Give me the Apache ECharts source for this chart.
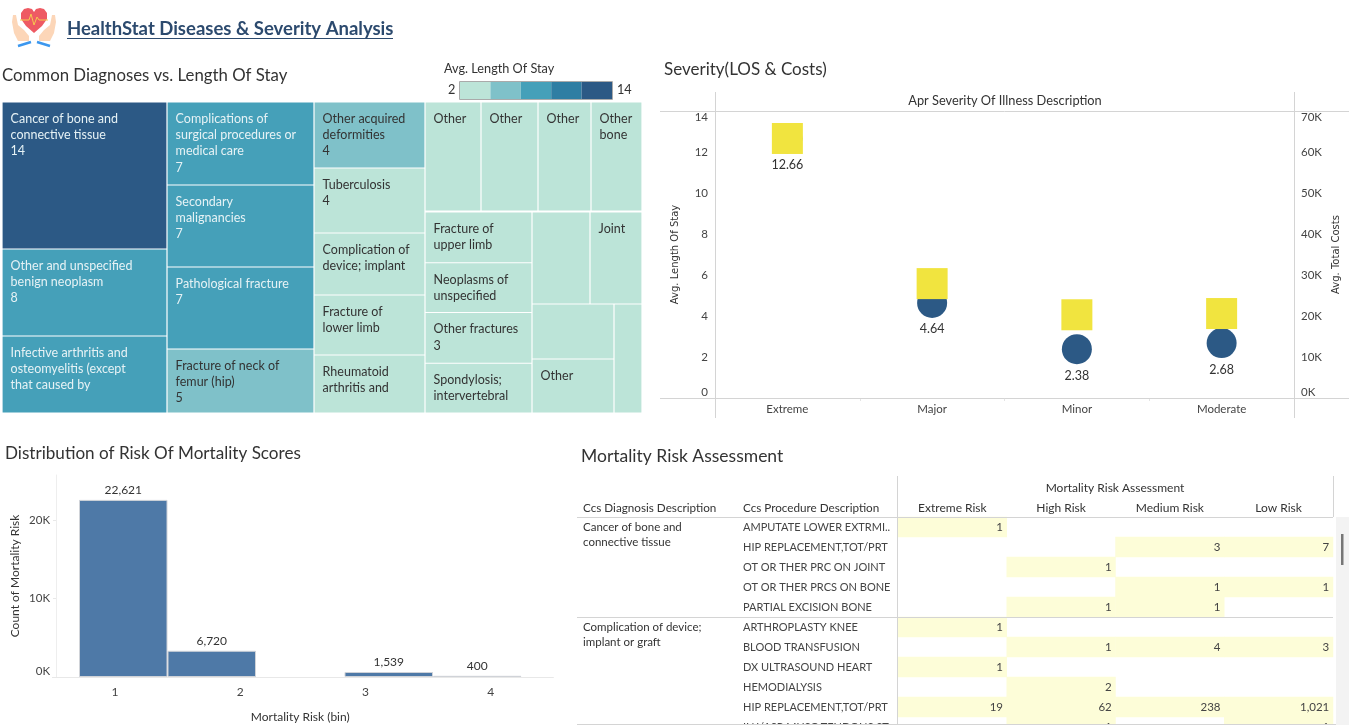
<!DOCTYPE html>
<html>
<head>
<meta charset="utf-8">
<style>html,body{margin:0;padding:0;background:#fff}#c{width:1349px;height:725px}</style>
<script src="https://cdn.jsdelivr.net/npm/echarts@6/dist/echarts.min.js"></script>
</head>
<body>
<div id="c"></div>
<script>
const FONT = 'Lato';

// ---- treemap: [label, size, avg length of stay]
const losSteps = ['#bce4d8', '#7fc1c9', '#45a0b9', '#2f7ea3', '#2c5985'];
const diagColumn1Top = [
  ['Cancer of bone and\nconnective tissue\n14', 147, 14],
  ['Other and unspecified\nbenign neoplasm\n8', 87, 8]
];
const diagColumn1Last = ['Infective arthritis and\nosteomyelitis (except\nthat caused by', 77, 8];
const diagColumn2Top = [
  ['Complications of\nsurgical procedures or\nmedical care\n7', 83, 7],
  ['Secondary\nmalignancies\n7', 82, 7],
  ['Pathological fracture\n7', 82, 7]
];
const diagColumn2Last = ['Fracture of neck of\nfemur (hip)\n5', 64, 5];
const diagColumn3 = [
  ['Other acquired\ndeformities\n4', 66, 4.5],
  ['Tuberculosis\n4', 65, 4],
  ['Complication of\ndevice; implant', 62, 3.8],
  ['Fracture of\nlower limb', 60, 3.6],
  ['Rheumatoid\narthritis and', 58, 3.5]
];
const diagTopRow = [
  ['Other', 56, 3.4], ['Other', 57, 3.4], ['Other', 53, 3.4], ['Other\nbone', 51, 3.4]
];
const diagLowerLeft = [
  ['Fracture of\nupper limb', 51, 3.3], ['Neoplasms of\nunspecified', 50, 3.3],
  ['Other fractures\n3', 51, 3], ['Spondylosis;\nintervertebral', 50, 3]
];
const diagLowerRightTop = [['', 5336, 3], ['Joint', 4784, 3]];
const diagLowerRightMid = [['', 4510, 3], ['Other', 4428, 3]];
const diagLowerRightNarrow = ['', 3052, 3];

// ---- severity
const severity = ['Extreme', 'Major', 'Minor', 'Moderate'];
const avgLos = [12.66, 4.64, 2.38, 2.68];
const avgCosts = [63300, 27900, 20300, 20600];

// ---- histogram
const binSlots = ['1', '2', '', '3', '4'];
const binTicks = ['1', '2', '3', '4'];
const binBarHeights = [22621, 3350, null, 640, 150];
const binBarLabels = ['22,621', '6,720', '', '1,539', '400'];

// ---- table
const riskColumns = ['Extreme Risk', 'High Risk', 'Medium Risk', 'Low Risk'];
const procedures = ['AMPUTATE LOWER EXTRMI..', 'HIP REPLACEMENT,TOT/PRT', 'OT OR THER PRC ON JOINT',
  'OT OR THER PRCS ON BONE', 'PARTIAL EXCISION BONE', 'ARTHROPLASTY KNEE', 'BLOOD TRANSFUSION',
  'DX ULTRASOUND HEART', 'HEMODIALYSIS', 'HIP REPLACEMENT,TOT/PRT', 'INJ/ASP MUSC TENDONS ST'];
const diagnosisByRow = ['Cancer of bone and\nconnective tissue', '', '', '', '',
  'Complication of device;\nimplant or graft', '', '', '', '', ''];
const riskCounts = [
  [1, null, null, null], [null, null, 3, 7], [null, 1, null, null], [null, null, 1, 1],
  [null, 1, 1, null], [1, null, null, null], [null, 1, 4, 3], [1, null, null, null],
  [null, 2, null, null], [19, 62, 238, 1021], [null, 1, null, 1]
];

// ---- helpers
const losColor = v => losSteps[Math.min(4, Math.floor((v - 2) / 2.4))];
const leaf = cell => {
  const dark = cell[2] >= 6.8;
  return {
    name: cell[0], value: cell[1],
    itemStyle: { color: losColor(cell[2]), borderColor: '#fff', borderWidth: 0.6 },
    label: { color: dark ? '#e6f2f5' : '#333' }
  };
};
const group = children => ({ name: '', children, itemStyle: { borderWidth: 0, gapWidth: 0 } });
const treemap = (data, left, top, width, height, squareRatio) => ({
  type: 'treemap', left, top, width, height, data, squareRatio, sort: false,
  roam: false, nodeClick: false, silent: true, animation: false,
  breadcrumb: { show: false }, visibleMin: 0, childrenVisibleMin: 0,
  itemStyle: { borderWidth: 0, gapWidth: 0, borderColor: '#fff' },
  upperLabel: { show: false },
  label: { show: true, position: [3, 3], formatter: '{b}', fontFamily: FONT, fontSize: 12.5,
    lineHeight: 16.3, overflow: 'none', align: 'left', verticalAlign: 'top' }
});

const text = (t, x, y, font, fill, extra) => ({
  type: 'text', z: 60, silent: true,
  style: Object.assign({ text: t, x, y, font, fill, verticalAlign: 'middle', align: 'left' }, extra || {})
});
const line = (x1, y1, x2, y2, color, lw) => ({
  type: 'line', z: 60, silent: true, shape: { x1, y1, x2, y2 }, style: { stroke: color || '#d4d4d4', lineWidth: lw || 1 }
});
const rect = (x, y, width, height, fill, stroke) => ({
  type: 'rect', z: 55, silent: true, shape: { x, y, width, height }, style: { fill, stroke: stroke || null }
});
const poly = (points, fill, smooth) => ({
  type: 'polygon', z: 60, silent: true, shape: { points, smooth: smooth || 0 }, style: { fill }
});

const chrome = [
  // logo
  poly([[13, 15], [16, 15], [18, 25], [24, 30], [29, 36], [29, 41], [18, 41], [14, 33], [12, 22]], '#fcd6b8'),
  poly([[55, 15], [52, 15], [50, 25], [44, 30], [39, 36], [39, 41], [50, 41], [54, 33], [56, 22]], '#fcd6b8'),
  poly([[34, 33], [26, 26], [21, 19], [21, 13], [24, 9], [28, 8], [32, 9], [34, 12], [36, 9], [40, 8], [44, 9], [47, 13], [47, 19], [42, 26]], '#ee5a63'),
  { type: 'polyline', z: 61, silent: true, shape: { points: [[20, 20], [29, 20], [31, 14], [34, 25], [37, 17], [39, 20], [48, 20]] },
    style: { stroke: '#f6c94e', lineWidth: 1, fill: null } },
  line(18, 46, 31, 42, '#3c97ee', 2.4),
  line(37, 42, 50, 46, '#3c97ee', 2.4),
  text('HealthStat Diseases & Severity Analysis', 67, 29, 'bold 18.5px ' + FONT, '#2c4a6e'),
  line(67, 38.5, 393, 38.5, '#2c4a6e'),
  // section titles
  text('Common Diagnoses vs. Length Of Stay', 2, 76, '16.8px ' + FONT, '#333'),
  text('Severity(LOS & Costs)', 664, 70, '17px ' + FONT, '#333'),
  text('Distribution of Risk Of Mortality Scores', 5, 453, '17.1px ' + FONT, '#333'),
  text('Mortality Risk Assessment', 581, 456, '17.5px ' + FONT, '#333'),
  // treemap legend
  text('Avg. Length Of Stay', 444, 69, '12.7px ' + FONT, '#333'),
  text('2', 448, 90, '12.7px ' + FONT, '#333'),
  text('14', 617, 90, '12.7px ' + FONT, '#333'),
  ...losSteps.map((c, i) => rect(460 + i * 30.4, 82, 30.4, 17, c)),
  rect(459.5, 81.5, 153, 18, 'none', '#aaa'),
  // severity frame
  text('Apr Severity Of Illness Description', 1005, 101, '12.8px ' + FONT, '#333', { align: 'center' }),
  line(660, 111.5, 1349, 111.5), line(660, 398.5, 1349, 398.5),
  line(715.5, 92, 715.5, 418), line(1294.5, 92, 1294.5, 418),
  // table frame
  rect(1336, 517, 13, 208, '#f3f3f3'),
  rect(1341, 534, 2.5, 31, '#777'),
  text('Mortality Risk Assessment', 1115, 488, '12px ' + FONT, '#333', { align: 'center' }),
  text('Ccs Diagnosis Description', 583, 508, '11.7px ' + FONT, '#333'),
  text('Ccs Procedure Description', 743, 508, '11.7px ' + FONT, '#333'),
  line(897.5, 476, 897.5, 724), line(1333.5, 476, 1333.5, 517),
  line(577, 517.5, 1333, 517.5), line(577, 617.5, 1333, 617.5),
  rect(577, 724, 759, 1, '#d4d4d4')
];

const heatData = [];
riskCounts.forEach((row, y) => row.forEach((v, x) => { if (v !== null) heatData.push([x, y, v]); }));

const axisText = { fontFamily: FONT, fontSize: 11.5, color: '#444' };

const option = {
  animation: false,
  backgroundColor: '#fff',
  textStyle: { fontFamily: FONT },
  graphic: { elements: chrome },
  grid: [
    { left: 715, top: 111, width: 579, height: 287, outerBoundsMode: 'none' },
    { left: 79, top: 475, width: 442.5, height: 202, outerBoundsMode: 'none' },
    { left: 52.4, top: 475, width: 501, height: 202, outerBoundsMode: 'none' },
    { left: 898, top: 517, width: 435, height: 220, outerBoundsMode: 'none' }
  ],
  xAxis: [
    { gridIndex: 0, type: 'category', data: severity, axisLine: { show: false },
      axisTick: { show: true, length: 3, lineStyle: { color: '#e4e4e4' } },
      axisLabel: Object.assign({ margin: 5 }, axisText) },
    { gridIndex: 1, type: 'category', data: binSlots, axisLine: { show: false }, axisTick: { show: false },
      axisLabel: { show: false },
      name: 'Mortality Risk (bin)', nameLocation: 'middle', nameGap: 34,
      nameTextStyle: { fontFamily: FONT, fontSize: 12, color: '#333' } },
    { gridIndex: 2, type: 'category', data: binTicks, axisLine: { lineStyle: { color: '#e8e8e8' } },
      axisTick: { alignWithLabel: true, length: 3, lineStyle: { color: '#e8e8e8' } },
      axisLabel: { margin: 9, fontFamily: FONT, fontSize: 12, color: '#444' } },
    { gridIndex: 3, type: 'category', position: 'top', data: riskColumns, axisLine: { show: false }, axisTick: { show: false },
      splitLine: { show: false }, axisLabel: { margin: 3, interval: 0, fontFamily: FONT, fontSize: 12, color: '#333' } }
  ],
  yAxis: [
    { gridIndex: 0, type: 'value', min: 0, max: 14, interval: 2, splitLine: { show: false },
      axisLine: { show: false }, axisTick: { show: false },
      name: 'Avg. Length Of Stay', nameLocation: 'middle', nameGap: 35,
      nameTextStyle: { fontFamily: 'DejaVu Sans', fontSize: 10, color: '#333' },
      axisLabel: Object.assign({ margin: 7, verticalAlignMinLabel: 'bottom', verticalAlignMaxLabel: 'top' }, axisText) },
    { gridIndex: 0, type: 'value', position: 'right', min: 0, max: 70000, interval: 10000, splitLine: { show: false },
      axisLine: { show: false }, axisTick: { show: false },
      name: 'Avg. Total Costs', nameLocation: 'middle', nameGap: 37,
      nameTextStyle: { fontFamily: 'DejaVu Sans', fontSize: 10, color: '#333' },
      axisLabel: Object.assign({ margin: 7, formatter: v => (v / 1000) + 'K', verticalAlignMinLabel: 'bottom', verticalAlignMaxLabel: 'top' }, axisText) },
    { gridIndex: 1, type: 'value', min: 0, max: 25800, interval: 10000, offset: 23, splitLine: { show: false },
      axisLine: { show: true, lineStyle: { color: '#eeeeee' } }, axisTick: { show: true, length: 3, lineStyle: { color: '#e8e8e8' } },
      name: 'Count of Mortality Risk', nameLocation: 'middle', nameGap: 35,
      nameTextStyle: { fontFamily: FONT, fontSize: 12, color: '#333' },
      axisLabel: Object.assign({ margin: 6, showMaxLabel: false, formatter: v => (v / 1000) + 'K', verticalAlignMinLabel: 'bottom' }, axisText) },
    { gridIndex: 2, type: 'value', min: 0, max: 25800, show: false },
    { gridIndex: 3, type: 'category', position: 'left', inverse: true, data: procedures, axisLine: { show: false }, axisTick: { show: false },
      splitLine: { show: false }, axisLabel: { interval: 0, align: 'left', margin: 155, fontFamily: FONT, fontSize: 11, color: '#444' } },
    { gridIndex: 3, type: 'category', position: 'left', inverse: true, data: diagnosisByRow, axisLine: { show: false }, axisTick: { show: false },
      splitLine: { show: false }, axisLabel: { interval: 0, align: 'left', margin: 315, lineHeight: 15,
        formatter: (v, i) => diagnosisByRow[i] ? '\n' + diagnosisByRow[i] : '',
        fontFamily: FONT, fontSize: 11.5, color: '#333' } }
  ],
  series: [
    treemap([group(diagColumn1Top.map(leaf)), leaf(diagColumn1Last)], 2, 102, 165, 311, 0.1),
    treemap([group(diagColumn2Top.map(leaf)), leaf(diagColumn2Last)], 167, 102, 147, 311, 0.1),
    treemap(diagColumn3.map(leaf), 314, 102, 111, 311, 0.1),
    treemap([group(diagTopRow.slice(0, 3).map(leaf)), leaf(diagTopRow[3])], 425, 102, 217, 109, 0.1),
    treemap([group(diagLowerLeft.slice(0, 2).map(leaf)), group(diagLowerLeft.slice(2).map(leaf))], 425, 212, 107, 201, 1.3),
    treemap([group(diagLowerRightTop.map(leaf)),
      group([group(diagLowerRightMid.map(leaf)), leaf(diagLowerRightNarrow)])], 532, 212, 110, 201, 1),
    { type: 'scatter', xAxisIndex: 0, yAxisIndex: 0, data: avgLos, symbol: 'circle', symbolSize: 30, z: 3,
      itemStyle: { color: '#2c5985', opacity: 1 },
      label: { show: true, position: 'bottom', distance: 5, fontFamily: FONT, fontSize: 12.5, color: '#333',
        formatter: p => p.value.toFixed(2) } },
    { type: 'scatter', xAxisIndex: 0, yAxisIndex: 1, data: avgCosts, symbol: 'rect', symbolSize: 31, z: 4,
      itemStyle: { color: '#f1e43f', opacity: 1 } },
    { type: 'bar', xAxisIndex: 1, yAxisIndex: 2, data: binBarHeights, barCategoryGap: '0%',
      itemStyle: { color: '#4e79a7', borderColor: '#d0d3d8', borderWidth: 1 },
      label: { show: true, position: 'top', distance: 4, fontFamily: FONT, fontSize: 12, color: '#333',
        formatter: p => binBarLabels[p.dataIndex] } },
    { type: 'heatmap', xAxisIndex: 3, yAxisIndex: 4, data: heatData, itemStyle: { color: '#fdfdd8' },
      label: { show: true, position: 'insideRight', distance: 4, fontFamily: FONT, fontSize: 11.5, color: '#444',
        formatter: p => p.value[2].toLocaleString('en-US') } }
  ]
};
echarts.init(document.getElementById('c')).setOption(option);
</script>
</body>
</html>
